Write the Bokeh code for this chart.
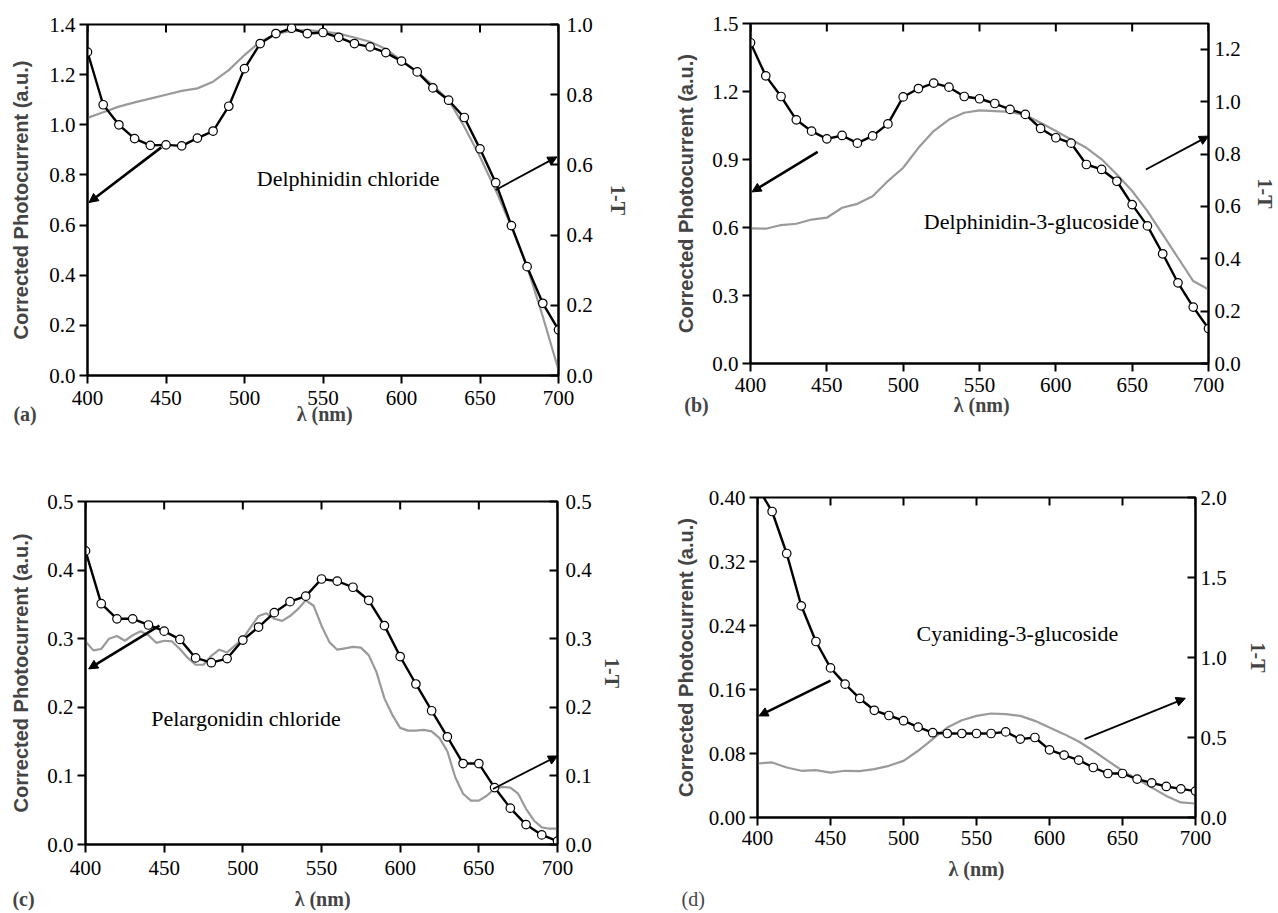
import math
from bokeh.plotting import figure
from bokeh.models import (Range1d, LinearAxis, Label, Arrow, NormalHead,
                          FixedTicker, PrintfTickFormatter, Title)
from bokeh.layouts import row, column
from bokeh.embed import file_html
from bokeh.resources import INLINE

SERIF = "Liberation Serif"
SANS = "Liberation Sans"

wavelength = list(range(400, 701, 10))
wavelength_5 = list(range(400, 701, 5))
x_ticks = [400, 450, 500, 550, 600, 650, 700]

# ---------------- (a) Delphinidin chloride ----------------
a_photo = [1.29, 1.08, 1.00, 0.945, 0.918, 0.92, 0.916, 0.947, 0.975, 1.074,
           1.224, 1.324, 1.364, 1.385, 1.364, 1.368, 1.349, 1.324, 1.311, 1.288,
           1.254, 1.211, 1.147, 1.098, 1.029, 0.904, 0.769, 0.598, 0.434, 0.288,
           0.182]
a_absorb = [0.734, 0.75, 0.766, 0.778, 0.789, 0.80, 0.811, 0.818, 0.837, 0.87,
            0.913, 0.951, 0.974, 0.982, 0.984, 0.98, 0.974, 0.963, 0.951, 0.93,
            0.898, 0.865, 0.827, 0.785, 0.709, 0.623, 0.528, 0.424, 0.31, 0.168,
            0.016]

# ---------------- (b) Delphinidin-3-glucoside ----------------
b_photo = [1.415, 1.269, 1.178, 1.075, 1.025, 0.991, 1.006, 0.972, 1.004, 1.057,
           1.176, 1.213, 1.237, 1.219, 1.178, 1.168, 1.147, 1.121, 1.099, 1.037,
           0.996, 0.972, 0.878, 0.856, 0.804, 0.701, 0.607, 0.484, 0.356, 0.249,
           0.154]
b_absorb = [0.516, 0.515, 0.529, 0.534, 0.550, 0.557, 0.595, 0.610, 0.639, 0.697,
            0.748, 0.824, 0.888, 0.932, 0.958, 0.967, 0.964, 0.961, 0.949, 0.920,
            0.888, 0.856, 0.824, 0.780, 0.722, 0.659, 0.582, 0.493, 0.404, 0.315,
            0.283]

# ---------------- (c) Pelargonidin chloride ----------------
c_photo = [0.428, 0.351, 0.329, 0.329, 0.320, 0.311, 0.299, 0.272, 0.265, 0.271,
           0.298, 0.317, 0.338, 0.354, 0.362, 0.387, 0.384, 0.375, 0.356, 0.319,
           0.274, 0.234, 0.195, 0.157, 0.118, 0.118, 0.083, 0.053, 0.029, 0.014,
           0.005]
c_absorb = [0.296, 0.283, 0.285, 0.300, 0.304, 0.297, 0.305, 0.311, 0.305, 0.294,
            0.297, 0.296, 0.285, 0.272, 0.262, 0.262, 0.275, 0.284, 0.280, 0.290,
            0.300, 0.317, 0.333, 0.337, 0.329, 0.326, 0.333, 0.343, 0.356, 0.348,
            0.319, 0.295, 0.284, 0.286, 0.288, 0.287, 0.276, 0.251, 0.213, 0.189,
            0.170, 0.166, 0.166, 0.167, 0.165, 0.155, 0.136, 0.098, 0.074, 0.064,
            0.064, 0.071, 0.081, 0.084, 0.083, 0.074, 0.052, 0.035, 0.025, 0.023,
            0.023]

# ---------------- (d) Cyaniding-3-glucoside ----------------
d_photo = [0.413, 0.3825, 0.330, 0.2646, 0.220, 0.187, 0.1667, 0.1488, 0.134,
           0.1275, 0.121, 0.113, 0.106, 0.105, 0.105, 0.105, 0.105, 0.107, 0.098,
           0.100, 0.0846, 0.078, 0.0717, 0.0625, 0.055, 0.055, 0.048, 0.0433,
           0.0388, 0.0358, 0.033]
d_absorb = [0.3375, 0.344, 0.3125, 0.292, 0.296, 0.281, 0.292, 0.29, 0.302, 0.323,
            0.354, 0.417, 0.49, 0.5625, 0.608, 0.635, 0.65, 0.646, 0.635, 0.604,
            0.5625, 0.521, 0.475, 0.417, 0.354, 0.292, 0.24, 0.1875, 0.135, 0.094,
            0.0875]

panel_names = ["Delphinidin chloride", "Delphinidin-3-glucoside",
               "Pelargonidin chloride", "Cyaniding-3-glucoside"]
panel_letters = ["(a)", "(b)", "(c)", "(d)"]
x_label = "λ (nm)"
left_label = "Corrected Photocurrent (a.u.)"
right_label = "1-T"
left_ranges = [(0, 1.4), (0, 1.5), (0, 0.5), (0, 0.40)]
right_ranges = [(0, 1.0), (0, 1.299), (0, 0.5), (0, 2.0)]
left_ticks = [[0, 0.2, 0.4, 0.6, 0.8, 1.0, 1.2, 1.4],
              [0, 0.3, 0.6, 0.9, 1.2, 1.5],
              [0, 0.1, 0.2, 0.3, 0.4, 0.5],
              [0, 0.08, 0.16, 0.24, 0.32, 0.40]]
right_ticks = [[0, 0.2, 0.4, 0.6, 0.8, 1.0],
               [0, 0.2, 0.4, 0.6, 0.8, 1.0, 1.2],
               [0, 0.1, 0.2, 0.3, 0.4, 0.5],
               [0, 0.5, 1.0, 1.5, 2.0]]
left_formats = ["%.1f", "%.1f", "%.1f", "%.2f"]
right_formats = ["%.1f", "%.1f", "%.1f", "%.1f"]
# name label position (x in nm, y in left-axis units)
name_pos = [(566, 0.786), (584, 0.628), (502, 0.184), (578, 0.23)]
# arrows: (x_start, y_start, x_end, y_end) in left-axis units
left_arrows = [(447, 0.91, 401, 0.69), (444, 0.934, 401, 0.757),
               (447, 0.319, 402, 0.256), (450, 0.171, 401, 0.127)]
right_arrows = [(660, 0.74, 699, 0.872), (659, 0.856, 700, 1.003),
                (659, 0.081, 700, 0.129), (624, 0.098, 693, 0.149)]

# ---------------- layout geometry (pixels, page has no margin) ----------------
# width, height, border_left, border_right, border_top, border_bottom
geom = [(648, 430, 87, 90, 24, 55),
        (630, 430, 102, 67, 23, 67),
        (648, 482, 85, 91, 71, 65),
        (630, 482, 109, 83, 67, 95)]
origin_x = [0, 648, 0, 648]
left_label_standoff = [14, 12, 12, 9]
right_label_standoff = [11, 10, 6, 17]
right_major_standoff = [8, 6, 8, 5]
x_major_standoff = [7, 6, 8, 5]
x_label_standoff = [-5, -1, 10, 10]
# left page-x of panel letter when it shares the line with the x label
letter_left_px = [10, 686, 10, None]
letter_offset_d = -76
letter_standoff_d = 6

NBSP = "\u00a0"
FS_X = 20  # px, x-label font
W_NBSP = 0.25 * FS_X
W_LETTER = 1.166 * FS_X
W_XLABEL = 2.86 * FS_X

photo = [a_photo, b_photo, c_photo, d_photo]
absorb = [a_absorb, b_absorb, c_absorb, d_absorb]
absorb_x = [wavelength, wavelength, wavelength_5, wavelength]


def combined_label(i, frame_left, frame_right):
    cx = (frame_left + frame_right) / 2.0
    lead = cx - W_XLABEL / 2.0 - letter_left_px[i]
    gap = max(1, int(round((lead - W_LETTER) / W_NBSP)))
    pad = int((W_LETTER + gap * W_NBSP) / W_NBSP)
    return panel_letters[i] + NBSP * gap + x_label + NBSP * pad


def make_panel(i):
    w, h, bl, br, bt, bb = geom[i]
    fl = origin_x[i] + bl
    fr = origin_x[i] + w - br
    p = figure(width=w, height=h, x_range=Range1d(400, 700),
               y_range=Range1d(*left_ranges[i]),
               output_backend="svg", toolbar_location=None, frame_align=False,
               min_border_left=bl, min_border_right=br,
               min_border_top=bt, min_border_bottom=bb)
    p.extra_y_ranges = {"right": Range1d(*right_ranges[i])}
    p.xgrid.visible = False
    p.ygrid.visible = False
    p.outline_line_color = "black"
    p.outline_line_width = 2
    p.background_fill_color = "white"
    p.border_fill_color = "white"

    def style(ax):
        ax.axis_line_width = 2
        ax.axis_line_color = "black"
        ax.major_tick_line_width = 2
        ax.major_tick_line_color = "black"
        ax.minor_tick_line_color = None
        ax.major_label_text_font = SERIF
        ax.major_label_text_font_size = "21px"
        ax.major_label_text_color = "black"

    xa = p.xaxis[0]
    style(xa)
    xa.ticker = FixedTicker(ticks=x_ticks)
    xa.major_tick_out = 8
    xa.major_tick_in = 0
    xa.major_label_standoff = x_major_standoff[i]
    xa.axis_label_text_font = SERIF
    xa.axis_label_text_font_size = f"{FS_X}px"
    xa.axis_label_text_font_style = "bold"
    xa.axis_label_standoff = x_label_standoff[i]
    if letter_left_px[i] is not None:
        xa.axis_label = combined_label(i, fl, fr)
    else:
        xa.axis_label = x_label
        p.add_layout(Title(text=panel_letters[i], align="left",
                           offset=letter_offset_d, standoff=letter_standoff_d,
                           text_font=SERIF, text_font_size="20px",
                           text_font_style="normal"), "below")

    ya = p.yaxis[0]
    style(ya)
    ya.ticker = FixedTicker(ticks=left_ticks[i])
    ya.formatter = PrintfTickFormatter(format=left_formats[i])
    ya.major_tick_out = 8
    ya.major_tick_in = 0
    ya.major_label_standoff = 4
    ya.axis_label = left_label
    ya.axis_label_text_font = SANS
    ya.axis_label_text_font_size = "20px"
    ya.axis_label_text_font_style = "bold"
    ya.axis_label_standoff = left_label_standoff[i]

    ra = LinearAxis(y_range_name="right", ticker=FixedTicker(ticks=right_ticks[i]),
                    formatter=PrintfTickFormatter(format=right_formats[i]))
    style(ra)
    ra.major_tick_out = 0
    ra.major_tick_in = 8
    ra.major_label_standoff = right_major_standoff[i]
    ra.axis_label = right_label
    ra.axis_label_text_font = SERIF
    ra.axis_label_text_font_size = "20px"
    ra.axis_label_text_font_style = "bold"
    ra.axis_label_standoff = right_label_standoff[i]
    p.add_layout(ra, "right")

    # inward ticks along the top edge of the frame (half of each dash is clipped)
    top = left_ranges[i][1]
    p.scatter(x_ticks, [top] * len(x_ticks), marker="dash", angle=math.pi / 2,
              size=16, line_color="black", line_width=2)

    p.line(absorb_x[i], absorb[i], y_range_name="right",
           line_color="#9a9a9a", line_width=2.2)
    p.line(wavelength, photo[i], line_color="black", line_width=2.4)
    p.scatter(wavelength, photo[i], marker="circle", size=8.5,
              fill_color="white", line_color="black", line_width=1.2)

    for (xs, ys, xe, ye), lw in ((left_arrows[i], 2.6), (right_arrows[i], 1.8)):
        p.add_layout(Arrow(x_start=xs, y_start=ys, x_end=xe, y_end=ye,
                           line_width=lw, line_color="black",
                           end=NormalHead(size=9, fill_color="black",
                                          line_color="black", line_width=1)))

    nx, ny = name_pos[i]
    p.add_layout(Label(x=nx, y=ny, text=panel_names[i], text_font=SERIF,
                       text_font_size="22px", text_align="center",
                       text_baseline="middle", text_color="black"))
    return p


figs = [make_panel(i) for i in range(4)]
layout = column(row(figs[0], figs[1]), row(figs[2], figs[3]))

open("out.html", "w").write(file_html(layout, INLINE))
